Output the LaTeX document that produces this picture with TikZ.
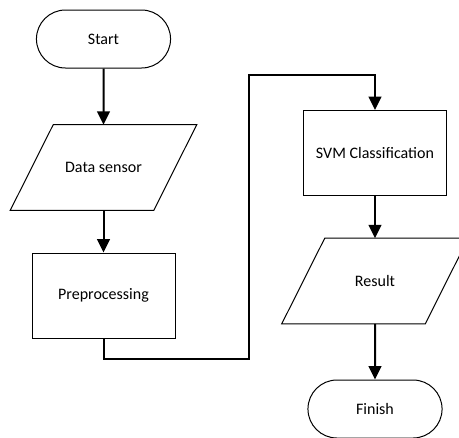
\documentclass[tikz,border=0pt]{standalone}
\usepackage{fontspec}
\setmainfont{Carlito}
\usetikzlibrary{shapes.misc,arrows.meta}

\tikzset{
  term/.style={draw, line width=0.75pt, rounded rectangle, minimum width=107.25pt, minimum height=43.5pt},
  proc/.style={draw, line width=0.75pt, minimum width=107.25pt, minimum height=63.75pt},
  io/.style={minimum width=107.25pt, minimum height=63.75pt},
  flow/.style={line width=1.5pt, -{Triangle[width=9.5pt,length=10pt]}},
}

\begin{document}
\begin{tikzpicture}[x=0.75pt,y=-0.75pt,font=\fontsize{12}{14}\selectfont]

\clip (0,0) rectangle (459,437);

\node[term] (start) at (103.5,39) {Start};
\node[io] (data) at (103.5,167.5) {Data sensor};
\node[proc] (prep) at (103.5,295.5) {Preprocessing};
\node[proc] (svm) at (375,153) {SVM Classification};
\node[io] (result) at (375,281) {Result};
\node[term] (finish) at (375,409) {Finish};

% parallelograms
\draw[line width=0.75pt] ([xshift=16.1pt]data.north west) -- ([xshift=16.1pt]data.north east)
  -- ([xshift=-16.1pt]data.south east) -- ([xshift=-16.1pt]data.south west) -- cycle;
\draw[line width=0.75pt] ([xshift=16.1pt]result.north west) -- ([xshift=16.1pt]result.north east)
  -- ([xshift=-16.1pt]result.south east) -- ([xshift=-16.1pt]result.south west) -- cycle;

\coordinate (lowbend) at (249,359);
\coordinate (topbend) at (249,75);

\draw[flow] (start) -- (data);
\draw[flow] (data) -- (prep);
\draw[flow] (prep.south) |- (lowbend) -- (topbend) -| (svm.north);
\draw[flow] (svm) -- (result);
\draw[flow] (result) -- (finish);

\end{tikzpicture}
\end{document}
